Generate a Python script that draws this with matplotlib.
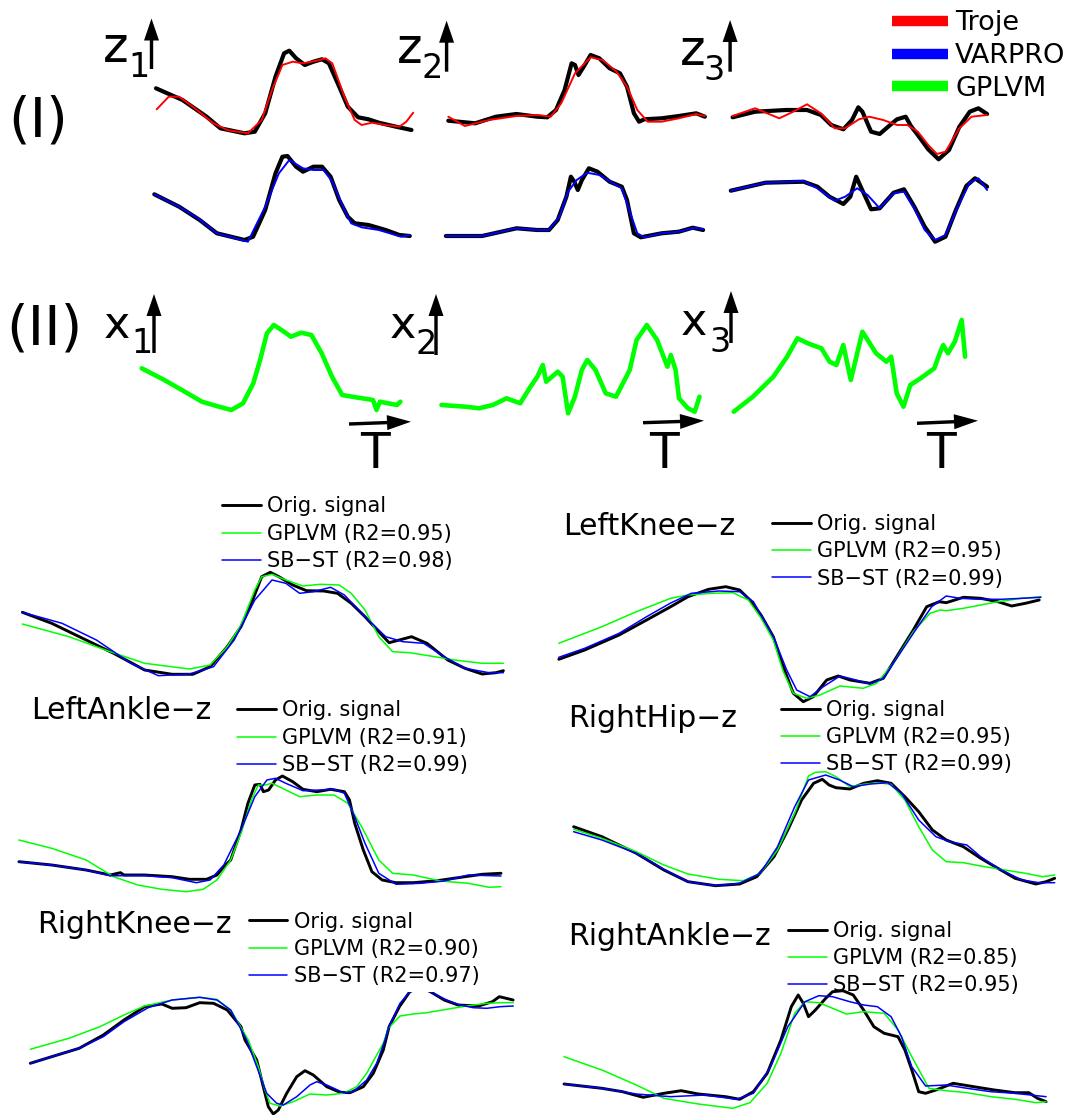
import matplotlib
matplotlib.use("Agg")
import matplotlib.pyplot as plt
from matplotlib.lines import Line2D

plt.rcParams['font.family'] = ['DejaVu Sans']

W, H = 1073, 1115
BLACK, RED, BLUE, GREEN = '#000000', '#ff0000', '#0000ff', '#00ff00'

# ---------------- (I) latent signals z1..z3 : (frame, amplitude) ----------------
z1_orig_troje = [(16.0,171.7),(42.5,160),(66.6,143.3),(80.4,131.7),(104.5,126.7),(114.8,128.3),(125.2,146.7),(135.5,183.3),(144.1,206.7),(149.3,209.3),(156.1,201.7),(164.8,195),(173.4,198.3),(182.0,200.7),(188.9,196.7),(199.2,173.3),(207.8,153.3),(218.1,142.7),(228.5,140.7),(238.8,137.3),(256.0,133.3),(271.5,130)]
z1_troje = [(16.7,150.7),(28.7,163.3),(39.1,163.3),(52.8,153.3),(73.5,136.7),(87.3,130),(107.9,126.7),(121.7,140),(132.0,170),(142.4,195),(152.7,198.3),(163.0,196.7),(176.8,199.3),(185.4,201.7),(192.3,196.7),(204.4,163.3),(214.7,140),(221.6,135),(231.9,137.3),(245.7,135),(259.4,133.3),(266.3,138.3),(273.2,147.3)]
z1_orig_varpro = [(14.3,65.7),(39.1,53.3),(59.7,40),(76.9,26.7),(104.5,20),(113.1,23.3),(125.2,50),(135.5,86.7),(142.4,103.3),(147.5,104),(156.1,93.3),(163.0,88.3),(173.4,93.3),(182.0,93.3),(190.6,83.3),(199.2,60),(207.8,43.3),(214.7,36.7),(228.5,35),(245.7,30),(259.4,25),(269.8,24)]
z1_varpro = [(14.3,65.7),(39.1,53.3),(59.7,40.5),(76.9,26.7),(107.9,18.3),(125.2,53.3),(138.9,86.7),(149.3,100),(163.0,91.7),(173.4,90),(183.7,90),(192.3,78.3),(204.4,50),(211.2,36.7),(221.6,32.7),(238.8,30),(261.2,23.3),(269.8,25)]

z2_orig_troje = [(8.3,139.3),(35.2,136.7),(55.9,143.3),(76.5,146),(97.2,143.3),(107.3,142.7),(116.0,150),(124.6,170),(131.6,196.7),(135.0,195),(138.5,185),(143.7,193.3),(150.6,205),(159.3,201.7),(169.6,191.7),(180.0,186.7),(187.0,173.3),(193.9,146.7),(199.1,138.3),(204.3,140.7),(221.6,141.7),(238.9,144),(256.2,146.7),(264.9,143.3)]
z2_troje = [(8.3,143.3),(24.9,134),(49.0,140),(76.5,144),(97.2,145),(110.8,143.3),(121.2,156.7),(135.0,186.7),(150.6,202.7),(162.7,200),(176.6,188.3),(187.0,173.3),(197.3,150),(207.7,138.3),(221.6,138.3),(238.9,141.7),(256.2,146),(264.9,144)]
z2_orig_varpro = [(5.9,24),(42.1,24),(76.5,31.7),(97.2,30),(109.0,30),(117.7,40),(126.4,63.3),(130.9,83.3),(134.3,78.3),(137.8,70),(141.9,80),(148.9,91.7),(157.5,88.3),(169.6,78.3),(181.8,73.3),(187.0,60),(193.9,26.7),(200.8,22.7),(221.6,26.7),(238.9,28.3),(252.7,32.3),(263.1,30)]
z2_varpro = [(5.9,24),(42.1,24),(76.5,31.7),(97.2,30),(109.0,30),(119.4,43.3),(128.1,68.3),(136.7,80),(147.1,87.3),(159.3,85),(173.1,76.7),(181.8,71.7),(190.4,46.7),(197.3,26.7),(204.3,22.7),(221.6,26.7),(238.9,28.3),(254.5,32.3),(263.1,30.7)]

z3_orig_troje = [(7.6,142.7),(30.1,148.3),(61.2,150),(82.0,150),(95.9,145),(106.2,135),(118.4,130.7),(127.0,140),(133.3,152.7),(137.4,148.3),(146.1,128.3),(154.7,126),(165.1,135),(172.0,140.7),(180.7,143.3),(185.9,134),(192.8,125),(203.2,110.7),(213.6,100.7),(224.0,110),(234.4,133.3),(244.8,148.3),(253.4,151.7),(262.1,146)]
z3_troje = [(7.6,144),(30.1,151.7),(54.3,141.7),(68.2,148.3),(82.0,155.7),(95.9,146.7),(109.7,131.7),(120.1,131.7),(133.9,140.7),(144.3,143.3),(158.2,140),(172.0,135),(182.4,135),(192.8,128.3),(203.2,115),(211.9,106),(220.5,108.3),(234.4,131.7),(246.5,143.3),(262.1,145)]
z3_orig_varpro = [(5.8,69.3),(40.5,77.3),(78.5,78.3),(92.4,73.3),(104.5,63.3),(118.4,56),(125.3,63.3),(131.2,83.3),(135.7,73.3),(146.1,50.7),(154.7,51.7),(168.6,67.3),(179.0,70.7),(189.3,53.3),(199.7,33.3),(210.1,18.3),(220.5,23.3),(230.9,50),(241.3,74),(250.0,81.7),(262.1,73.3)]
z3_varpro = [(5.8,69.3),(40.5,77.3),(78.5,79),(92.4,71.7),(109.7,59.3),(120.1,63.3),(132.2,71.7),(142.6,65),(154.7,51.7),(168.6,66.7),(179.0,68.3),(189.3,51.7),(199.7,30),(210.1,20),(220.5,25),(234.4,56.7),(244.8,77.3),(253.4,81.7),(262.1,70)]

# ---------------- (II) GPLVM latent signals x1..x3 ----------------
x1_gplvm = [(6.7,51.7),(29.3,40),(49.8,28.3),(66.9,18.3),(84.0,13.3),(96.3,10),(108.0,16.7),(118.3,36.7),(125.1,60),(131.9,86.7),(138.8,95),(149.0,88.3),(155.9,83.3),(166.2,87.3),(176.4,85),(186.7,66.7),(197.0,43.3),(207.2,25),(220.9,22.7),(238.0,20),(241.5,10),(244.9,18.3),(262.0,15),(265.4,18.3)]
x2_gplvm = [(6.5,15),(30.4,13.3),(44.1,11.7),(57.8,15),(71.5,21.7),(85.2,16.7),(95.5,33.3),(102.3,43.3),(107.8,55),(111.2,38.3),(122.8,48.3),(127.6,43.3),(133.1,6.7),(139.9,23.3),(146.8,50),(152.3,60),(160.5,50),(170.7,26.7),(181.0,23.3),(187.9,36.7),(194.7,50),(201.6,80),(211.8,95),(222.1,80),(232.4,53.3),(235.8,65),(240.6,50),(244.0,21.7),(252.9,11.7),(259.7,8.3),(264.5,23.3)]
x3_gplvm = [(8.7,8.3),(27.9,23.3),(48.4,43.3),(62.1,63.3),(72.4,81.7),(82.7,76.7),(96.4,71.7),(104.6,58.3),(111.4,55),(118.3,75),(125.8,40),(137.4,88.3),(151.1,66.7),(161.4,58.3),(166.2,63.3),(171.7,26.7),(178.5,13.3),(185.3,35),(195.6,41.7),(209.3,51.7),(214.1,65),(218.2,75),(223.0,66.7),(229.8,78.3),(236.7,100),(240.1,63.3)]

# ---------------- joint reconstructions ----------------
b1_orig = [(7.4,77.7),(36.7,66.7),(71.1,50),(98.6,36.7),(129.6,20),(157.2,15.7),(177.8,15.7),(195.1,23.3),(212.3,43.3),(226.0,63.3),(236.4,86.7),(246.7,113.3),(255.3,117.7),(263.9,113.3),(277.7,105),(291.5,99.3),(308.7,99),(322.5,96.7),(336.2,86.7),(350.0,73.3),(363.8,58.3),(374.1,47.3),(384.4,50),(396.5,53.3),(412.0,46.7),(432.7,30),(449.9,21.7),(467.1,16),(480.9,17.3),(488.4,19.3)]
b1_gplvm = [(7.4,66),(53.9,53.3),(95.2,38.3),(129.6,26.7),(174.4,21),(195.1,25),(212.3,43.3),(226.0,65),(239.8,100),(246.7,113.3),(257.0,115.7),(270.8,110),(288.0,104),(305.2,105.7),(324.2,105),(336.2,96.7),(350.0,80),(363.8,53.3),(377.6,38.3),(394.8,37.3),(415.4,34),(439.5,30),(467.1,26.7),(488.4,26.7)]
b1_sbst = [(7.4,77.7),(47.0,66.7),(81.4,50),(115.9,26.7),(143.4,14.3),(174.4,16),(198.5,23.3),(219.2,50),(239.8,90),(257.0,110),(270.8,106.7),(284.6,96.7),(298.4,98.3),(315.6,102.7),(329.4,95),(350.0,73.3),(370.7,53.3),(387.9,48.3),(408.6,46.7),(429.2,33.3),(449.9,21.7),(474.0,17.3),(488.4,17.3)]

b2_orig = [(8.8,50.7),(34.7,60),(69.1,75),(96.6,90),(120.7,103.3),(138.0,113.3),(158.6,120.7),(175.8,123.3),(189.6,120),(200,110),(211,95),(223.3,73.3),(233.3,43.3),(243.3,16.7),(253.3,8.3),(263.3,13.3),(276.7,30),(288.3,34),(300,30),(320,26.7),(333.3,31.7),(346.7,53.3),(363.3,80),(376.7,103.3),(389.3,108.3),(396.2,107.3),(413.4,112.7),(430.7,111.7),(447.9,108.3),(461.7,104),(475.4,106.7),(489.2,110)]
b2_gplvm = [(8.8,66.7),(51.9,83.3),(86.3,98.3),(120.7,111.7),(138.0,115),(162.1,116.7),(182.7,117.3),(198.3,110),(211,92),(223.3,70),(233.3,38.3),(243.3,16.7),(256.7,11.7),(270,15),(290,24),(313.3,21.7),(326.7,26.7),(343.3,46.7),(363.3,78.3),(380,96.7),(390,100),(396.2,99.3),(413.4,101.7),(430.7,105),(447.9,108.3),(472.0,111.7),(490.9,113.3)]
b2_sbst = [(8.8,52.7),(34.7,61.7),(69.1,76.7),(96.6,93.3),(120.7,107),(141.4,116.7),(168.9,119),(189.6,118.3),(203.4,108.3),(223.3,73.3),(236.7,40),(246.7,20),(260,13.3),(273.3,23.3),(290,34),(303.3,30.7),(320,26),(333.3,31.7),(350,56.7),(366.7,81.7),(381.7,103.3),(396.2,114),(410.0,111.7),(430.7,110.7),(451.3,110.7),(472.0,111.7),(490.9,112.7)]

b3_orig = [(3.9,38.3),(36.7,35),(71.1,30),(95.2,25),(105.5,27.3),(109.0,25),(129.6,25),(157.2,23.3),(174.4,20.7),(191.6,20.7),(201.9,25),(208.8,33.3),(215.7,40),(226.0,70),(232.9,96.7),(239.8,115),(245.0,115.7),(248.4,108.3),(253.6,110),(260.5,120),(267.4,124),(277.7,118.3),(288.0,110.7),(301.8,108.3),(315.6,110.7),(329.4,108.3),(334.5,100),(339.7,76.7),(348.3,50),(356.9,28.3),(367.2,20),(381.0,17.3),(398.2,17.3),(422.3,19.3),(449.9,23.3),(467.1,25.7),(486.0,26.7)]
b3_gplvm = [(3.9,60),(36.7,51.7),(71.1,40),(98.6,23.3),(122.7,15),(146.8,10.7),(171.0,8.3),(188.2,10.7),(201.9,20),(215.7,40),(226.0,66.7),(236.4,100),(243.3,115),(250.2,115),(257.0,116.7),(267.4,111.7),(284.6,103.3),(301.8,105),(319.0,105),(332.8,96.7),(346.6,73.3),(363.8,40),(377.6,26.7),(398.2,25),(425.8,19),(453.3,16.7),(474.0,12.7),(486.0,13.3)]
b3_sbst = [(3.9,38.3),(36.7,35),(71.1,30),(95.2,24.3),(129.6,24.3),(157.2,22.3),(181.3,17.3),(195.1,20),(208.8,35),(226.0,70),(239.8,103.3),(251.9,120),(260.5,121.7),(270.8,116.7),(288.0,109.3),(305.2,110),(319.0,110.7),(329.4,106.7),(339.7,83.3),(350.0,56.7),(363.8,26.7),(381.0,15.7),(405.1,16.7),(429.2,19),(453.3,25),(486.0,24)]

b4_orig = [(8.6,73.3),(36.9,63.3),(71.3,46.7),(98.9,30),(123.0,18.3),(150.5,14.3),(174.6,16),(191.8,23.3),(209.0,43.3),(222.8,70),(236.6,100),(248.6,116.7),(257.3,120.7),(264.1,115),(271.0,112.3),(284.8,111),(298.6,116.7),(312.4,119.3),(326.1,116.7),(339.9,103.3),(353.7,88.3),(367.4,70),(381.2,60),(398.4,53.3),(415.7,41.7),(432.9,31.7),(450.1,21.7),(470.8,16),(481.1,18.3),(489.7,21.7)]
b4_gplvm = [(8.6,70.7),(36.9,61.7),(71.3,48.3),(98.9,35),(123.0,26),(154.0,20.7),(178.1,19.3),(195.3,26.7),(212.5,50),(229.7,86.7),(243.5,124),(250.4,127.7),(260.7,128.3),(271.0,123.3),(284.8,113.3),(298.6,115.7),(312.4,117.3),(326.1,115.7),(339.9,100),(353.7,73.3),(367.4,50),(381.2,38.3),(398.4,37.3),(415.7,34),(439.8,30),(460.4,26.7),(477.6,23.3),(489.7,25)]
b4_sbst = [(8.6,68.3),(36.9,60),(71.3,46.7),(98.9,30.7),(123.0,18.3),(150.5,14.3),(174.6,16.7),(195.3,26.7),(212.5,53.3),(229.7,93.3),(243.5,120),(260.7,125),(274.5,120),(288.2,113.3),(305.5,116),(322.7,117.3),(336.5,106.7),(353.7,80),(370.9,63.3),(384.7,58.3),(401.9,55),(415.7,43.3),(432.9,31.7),(457.0,20),(474.2,17.3),(489.7,17.3)]

b5_orig = [(5.3,51.7),(26.7,58.3),(54.2,66.7),(78.3,80),(99.0,95),(119.6,108.3),(136.8,111),(147.2,106.7),(161.0,107.3),(174.7,112.3),(188.5,111.7),(202.3,105),(216.0,88.3),(220,75),(231.7,55),(238.3,28.3),(243.3,8.3),(248.3,1),(253.3,5),(261.7,21.7),(271.7,38.3),(280,44.3),(288.3,40),(301.7,28.3),(315,22.7),(325,22.3),(338.3,28.3),(348.3,41.7),(358.3,65),(364.1,88.3),(374.4,108.3),(384.8,123.3),(395,128),(405.4,123.3),(419.2,115),(433.0,110),(453.6,109),(467.4,113.3),(474.3,118.3),(481.2,116.7),(488.1,115)]
b5_gplvm = [(5.3,65.7),(43.9,76.7),(74.9,88.3),(99.0,100),(119.6,109),(147.2,115),(174.7,117.7),(191.9,115.7),(205.7,105),(223.3,75),(233.3,48.3),(240,25),(245,11.7),(255,9),(268.3,13.3),(285,21),(301.7,20),(318.3,21.7),(331.7,28.3),(341.7,41.7),(351.7,60),(358.3,71.7),(363.3,86.7),(375,99),(388.3,101),(401.7,102.3),(421.7,105.7),(441.7,109),(461.7,111.7),(475,112.3),(488.3,112.3)]
b5_sbst = [(5.3,51.7),(26.7,58.3),(54.2,66.7),(78.3,78.3),(99.0,93.3),(123.1,107.3),(147.2,115),(174.7,117.7),(191.9,115),(205.7,105),(221.7,75),(231.7,48.3),(241.7,21.7),(251.7,11.7),(258.3,10),(271.7,18.3),(285,30),(291.7,33.3),(301.7,30),(318.3,22.3),(328.3,23.3),(341.7,35),(351.7,51.7),(360,75),(363.3,86.7),(375,111.7),(385,123.3),(395,128),(405,123.3),(421.7,115),(435,110),(448.3,107.3),(461.7,106.7),(475,108.3),(488.3,109)]

b6_orig = [(9.0,31),(46.9,26.7),(67.5,23.3),(88.2,17.7),(108.9,21.7),(126.1,24.3),(143.3,21),(170.8,18.3),(184.6,15.7),(198.4,23.3),(212.2,41.7),(225.9,75),(236.3,108.3),(243.2,120),(248.3,111.7),(253.5,98.3),(260.4,105),(270.7,116.7),(277.6,123.3),(287.9,124.3),(298.2,120),(308.6,105),(318.9,88.3),(329.2,81.7),(343.0,78.3),(349.9,65),(356.8,45),(363.7,23.3),(370.6,21.7),(380.9,25),(398.1,31.7),(418.8,28.3),(439.4,25),(460.1,22.3),(473.9,22.3),(482.5,16.7),(491.1,13.3)]
b6_gplvm = [(9.0,58.3),(46.9,45),(81.3,30),(108.9,16.7),(143.3,11),(177.7,6.7),(194.9,12.3),(212.2,31.7),(225.9,61.7),(239.7,101.7),(250.0,113.3),(263.8,112.3),(277.6,106.7),(291.4,101),(308.6,103.3),(329.2,101.7),(343.0,85),(356.8,58.3),(374.0,26.7),(391.2,24.3),(411.9,22.3),(436.0,18.3),(460.1,15.7),(480.8,12.3),(491.1,13.3)]
b6_sbst = [(9.0,31),(46.9,26.7),(81.3,21),(115.7,18.3),(150.2,20),(181.2,15.7),(198.4,21.7),(215.6,48.3),(232.8,88.3),(250.0,113.3),(263.8,119.3),(277.6,118.3),(294.8,113.3),(308.6,110),(322.4,108.3),(336.1,98.3),(346.5,78.3),(356.8,48.3),(370.6,29),(391.2,30),(411.9,26.7),(436.0,23.3),(460.1,21.7),(491.1,18.3)]

joint_titles = ['', 'LeftKnee\u2212z', 'LeftAnkle\u2212z', 'RightHip\u2212z', 'RightKnee\u2212z', 'RightAnkle\u2212z']
gplvm_r2 = [0.95, 0.95, 0.91, 0.95, 0.90, 0.85]
sbst_r2 = [0.98, 0.99, 0.99, 0.99, 0.97, 0.95]
method_names = ['Troje', 'VARPRO', 'GPLVM']

# ---------------- layout ----------------
fig = plt.figure(figsize=(W / 100, H / 100), dpi=100)
fig.patch.set_facecolor('white')

ov = fig.add_axes([0, 0, 1, 1])
ov.set_xlim(0, W)
ov.set_ylim(H, 0)
ov.axis('off')


def panel(L, T, R, B):
    ax = fig.add_axes([L / W, 1 - B / H, (R - L) / W, (B - T) / H])
    ax.set_xlim(0, R - L)
    ax.set_ylim(0, B - T)
    ax.axis('off')
    ax.patch.set_alpha(0)
    return ax


def draw(ax, series, color, lw):
    t, v = zip(*series)
    return ax.plot(t, v, color=color, lw=lw, solid_joinstyle='round',
                   solid_capstyle='round')[0]


# (I) panels
for (L, R), orig_a, troje, orig_b, varpro in [
        ((140, 430), z1_orig_troje, z1_troje, z1_orig_varpro, z1_varpro),
        ((440, 720), z2_orig_troje, z2_troje, z2_orig_varpro, z2_varpro),
        ((725, 1000), z3_orig_troje, z3_troje, z3_orig_varpro, z3_varpro)]:
    ax = panel(L, 0, R, 260)
    draw(ax, orig_a, BLACK, 3.0)
    draw(ax, troje, RED, 1.4)
    draw(ax, orig_b, BLACK, 3.0)
    draw(ax, varpro, BLUE, 1.4)

# (II) panels
for (L, R), sig in [((135, 410), x1_gplvm), ((435, 710), x2_gplvm), ((725, 975), x3_gplvm)]:
    ax = panel(L, 280, R, 420)
    draw(ax, sig, GREEN, 3.3)

# joint panels
boxes = [(15, 480, 515, 690), (550, 480, 1055, 710), (15, 690, 515, 900),
         (565, 690, 1065, 900), (25, 992, 525, 1115), (555, 900, 1055, 1115)]
series = [(b1_orig, b1_gplvm, b1_sbst), (b2_orig, b2_gplvm, b2_sbst),
          (b3_orig, b3_gplvm, b3_sbst), (b4_orig, b4_gplvm, b4_sbst),
          (b5_orig, b5_gplvm, b5_sbst), (b6_orig, b6_gplvm, b6_sbst)]
legend_at = [(222, 496.5), (772, 514.2), (237, 700.5), (781, 699.8), (248.5, 911.5), (788, 920.8)]
title_at = [None, (563, 535), (31.5, 719.3), (568.6, 727.3), (37.6, 933.3), (568, 945)]

for i in range(6):
    ax = panel(*boxes[i])
    o, g, s = series[i]
    h1 = draw(ax, o, BLACK, 2.1)
    h2 = draw(ax, g, GREEN, 1.1)
    h3 = draw(ax, s, BLUE, 1.1)
    labels = ['Orig. signal', f'GPLVM (R2={gplvm_r2[i]:.2f})',
              f'SB\u2212ST (R2={sbst_r2[i]:.2f})']
    ax.legend([h1, h2, h3], labels, loc='upper left',
              bbox_to_anchor=legend_at[i], bbox_transform=ov.transData,
              frameon=False, fontsize=15, handlelength=1.85,
              handletextpad=0.33, labelspacing=0.35, borderpad=0,
              borderaxespad=0)
    if title_at[i]:
        ov.text(*title_at[i], joint_titles[i], fontsize=21.5, ha='left', va='baseline')

# method legend
method_handles = [Line2D([], [], color=c, lw=7.5, solid_capstyle='butt') for c in (RED, BLUE, GREEN)]
ov.legend(method_handles, method_names, loc='upper left', bbox_to_anchor=(892, 10.5),
          bbox_transform=ov.transData, frameon=False, fontsize=19.5,
          handlelength=2.05, handletextpad=0.28, labelspacing=0.24,
          borderpad=0, borderaxespad=0)

# section labels
ov.text(8, 136.7, '(I)', fontsize=40, ha='left', va='baseline')
ov.text(6, 345, '(II)', fontsize=40, ha='left', va='baseline')

# axis names with subscripts
for x, y, s in [(103, 61.7, 'z'), (397, 63.3, 'z'), (679.5, 65, 'z')]:
    ov.text(x, y, s, fontsize=35, ha='left', va='baseline')
for x, y, s in [(104, 338, 'x'), (389.5, 338, 'x'), (681, 335, 'x')]:
    ov.text(x, y, s, fontsize=32, ha='left', va='baseline')
for x, y, s in [(128, 77, '1'), (421, 78, '2'), (703, 80, '3'),
                (131, 353, '1'), (416, 354, '2'), (709, 352, '3')]:
    ov.text(x, y, s, fontsize=24, ha='left', va='baseline')

# axis arrows
for x, tail, tip in [(151.5, 69, 18.5), (446.6, 71.7, 20.7), (730.1, 71.7, 20),
                     (154, 353, 294), (436, 355, 294), (731, 343, 291)]:
    ov.arrow(x, tail, 0, tip - tail, width=3.4, head_width=15, head_length=22,
             length_includes_head=True, color='k', lw=0)

for (x0, y0, x1, y1), tx in [((349, 424, 411, 421.7), 374.5),
                             ((643, 422.7, 704, 420.7), 664),
                             ((917, 423.3, 978, 420.7), 941)]:
    ov.arrow(x0, y0, x1 - x0, y1 - y0, width=3.4, head_width=15, head_length=24,
             length_includes_head=True, color='k', lw=0)
    ov.text(tx, 468, 'T', fontsize=35, ha='center', va='baseline')

fig.savefig('out.png', dpi=100, facecolor='white')
